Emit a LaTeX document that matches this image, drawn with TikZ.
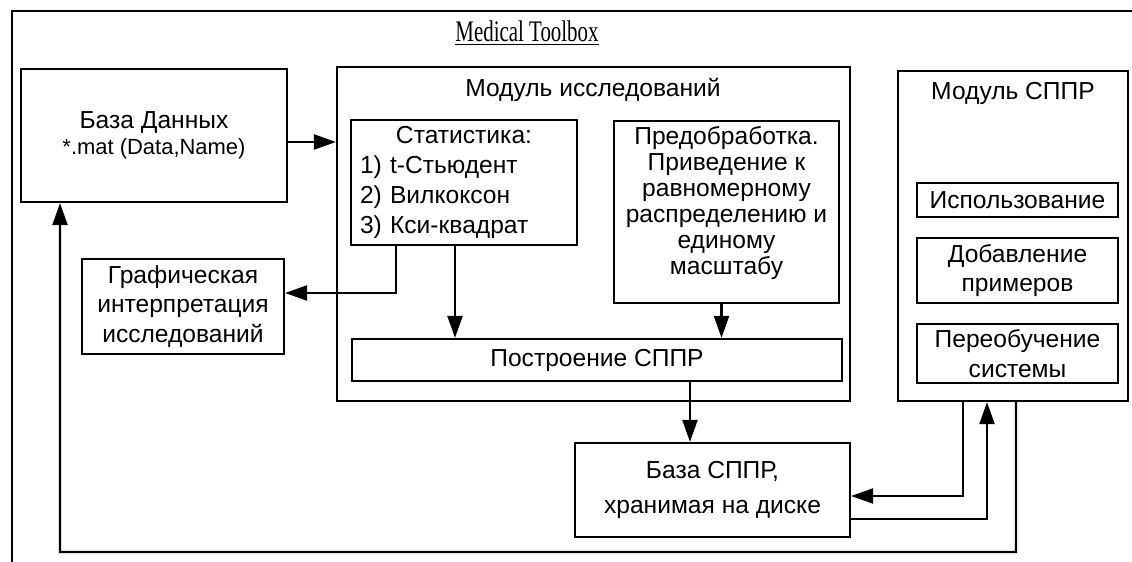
\documentclass[tikz,border=0pt]{standalone}
\usepackage{fontspec}
\setmainfont{Liberation Sans}
\newfontfamily\titlefont{Liberation Serif}
\usetikzlibrary{arrows.meta,positioning,calc}

\begin{document}
\begin{tikzpicture}[x=0.02cm, y=-0.02cm,
    box/.style={draw, line width=1.3pt, align=center, inner sep=0pt, font=\fontsize{14}{17}\selectfont},
    caption/.style={font=\fontsize{14}{17}\selectfont, inner sep=0pt},
    arr/.style={line width=1.3pt, -{Triangle[length=0.44cm,width=0.3cm]}}
]
    \useasboundingbox (0,0) rectangle (1132,561);
    \clip (0,0) rectangle (1132,561);
    \draw[line width=1.3pt] (12,11) rectangle (1170,600);
    \node[font=\titlefont\fontsize{17}{19}\selectfont] (title) at (527,33) {\scalebox{0.7}[1]{\underline{Medical Toolbox}}};

    % left side
    \node[box, minimum width=5.32cm, minimum height=2.66cm] (db) at (154,135.5)
        {База Данных\\[-2pt]{\fontsize{12.5}{14}\selectfont *.mat (Data,Name)}};
    \node[box, minimum width=4.04cm, minimum height=1.9cm] (graph) at (183,306.5)
        {Графическая\\интерпретация\\исследований};

    % research module
    \node[box, minimum width=10.26cm, minimum height=6.68cm] (research) at (593.5,234) {};
    \node[caption] (restitle) at (593,90) {Модуль исследований};
    \node[box, text width=4.16cm, inner xsep=0.18cm, align=left, minimum height=2.5cm] (stat) at (464,182.5)
        {\makebox[4.16cm]{Статистика:}\\1) t-Стьюдент\\2) Вилкоксон\\3) Кси-квадрат};
    \node[box, minimum width=4.5cm, minimum height=3.64cm, font=\fontsize{14}{14.8}\selectfont] (prep) at (726.5,212)
        {Предобработка.\\Приведение к\\равномерному\\распределению и\\единому\\масштабу\\[-6pt]\strut};
    \node[box, minimum width=9.8cm, minimum height=0.84cm] (build) at (597,360) {Построение СППР};

    % dss module
    \node[box, minimum width=4.6cm, minimum height=6.6cm] (dss) at (1013,236) {};
    \node[caption] (dsstitle) at (1013,93) {Модуль СППР};
    \node[box, minimum width=4.02cm, minimum height=0.68cm] (use) at (1017.5,200) {Использование};
    \node[box, minimum width=4.02cm, minimum height=1.3cm] (add) at (1017.5,270.5) {Добавление\\примеров};
    \node[box, minimum width=4.02cm, minimum height=1.18cm] (retrain) at (1017.5,353.5) {Переобучение\\системы};

    \node[box, minimum width=5.5cm, minimum height=1.88cm, font=\fontsize{14}{20}\selectfont] (dssbase) at (712.5,490)
        {База СППР,\\хранимая на диске};

    % connectors
    \draw[arr] ([yshift=-0.13cm]db.east) -- ([yshift=-0.13cm]db.east -| research.west);
    \draw[arr] ([xshift=-0.18cm]stat.south) -- ([xshift=-0.18cm]stat.south |- build.north);
    \draw[arr] ([xshift=-0.1cm]prep.south) -- ([xshift=-0.1cm]prep.south |- build.north);
    \draw[arr] ([xshift=-1.36cm]stat.south) |- ([yshift=0.27cm]graph.east);
    \draw[arr] ([xshift=1.86cm]build.south) -- ([xshift=1.86cm]build.south |- dssbase.north);
    \draw[arr] ([xshift=-1cm]dss.south) |- ([yshift=-0.12cm]dssbase.east);
    \draw[arr] ([yshift=-0.58cm]dssbase.east) -| ([xshift=-0.52cm]dss.south);
    \coordinate (loop) at (60,552);
    \draw[arr] ([xshift=0.06cm]dss.south) |- (loop) -- ([xshift=-1.88cm]db.south);
\end{tikzpicture}
\end{document}
